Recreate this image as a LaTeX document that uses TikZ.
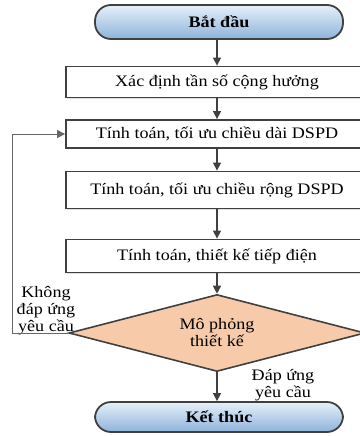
\documentclass[tikz,border=0pt]{standalone}
\usepackage{fontspec}
\setmainfont{Liberation Serif}[FakeStretch=1.13]
\usetikzlibrary{arrows.meta,shapes.geometric,shadows}
\definecolor{lineg}{HTML}{404040}
\definecolor{termtop}{HTML}{E6F0F9}
\definecolor{termbot}{HTML}{8DB3DB}
\definecolor{peach}{HTML}{F7CBA9}

\begin{document}
\begin{tikzpicture}[x=1pt, y=-1pt, >={Triangle[length=8pt,width=8pt]}]
            \tikzstyle{term}=[rectangle,rounded corners=16pt,draw=lineg,line width=1.8pt,top color=termtop,bottom color=termbot,minimum width=248pt,font=\bfseries]
            \tikzstyle{box}=[rectangle,draw=lineg,line width=1.8pt,fill=white,minimum width=302pt,drop shadow={opacity=0.25,shadow xshift=1pt,shadow yshift=-1.2pt}]
            \tikzstyle{decision}=[diamond,draw=lineg,line width=1.6pt,fill=peach,minimum width=296pt,minimum height=77pt,inner sep=0pt,aspect=3.8,align=center]
            \tikzstyle{conn}=[draw=lineg,line width=1.4pt,->]
            \tikzstyle{note}=[align=center,inner sep=0pt]
            \useasboundingbox (0,0) rectangle (359,436);
            \fontsize{16}{17}\selectfont

            \node[term, minimum height=34pt] (S) at (219,22) {Bắt đầu};
            \node[box, minimum height=31pt] (B_1) at (217,82) {Xác định tần số cộng hưởng};
            \node[box, minimum height=28pt] (B_2) at (217,134) {Tính toán, tối ưu chiều dài DSPD};
            \node[box, minimum height=37pt] (B_3) at (217,190) {Tính toán, tối ưu chiều rộng DSPD};
            \node[box, minimum height=33pt] (B_4) at (217,256) {Tính toán, thiết kế tiếp điện};
            \node[decision] (D) at (217,333) {Mô phỏng\\thiết kế};
            \node[term, minimum height=30pt] (E) at (219,417) {Kết thúc};

            \node[note] (L_1) at (46,311) {Không\\đáp ứng\\yêu cầu};
            \node[note] (L_2) at (283,385) {Đáp ứng\\yêu cầu};

            \coordinate (C_1) at (12,333);
            \coordinate (C_2) at (12,134);

            \draw[conn] (B_1.north |- S.south) -- (B_1.north);
            \draw[conn] (B_1) -- (B_2);
            \draw[conn] (B_2) -- (B_3);
            \draw[conn] (B_3) -- (B_4);
            \draw[conn] (B_4) -- (D);
            \draw[conn] (D) -- (D.south |- E.north);
            \draw[draw=lineg!80,line width=1pt,->] (D.west) -- (C_1) -- (C_2) -- (B_2.west);
        \end{tikzpicture}
\end{document}
